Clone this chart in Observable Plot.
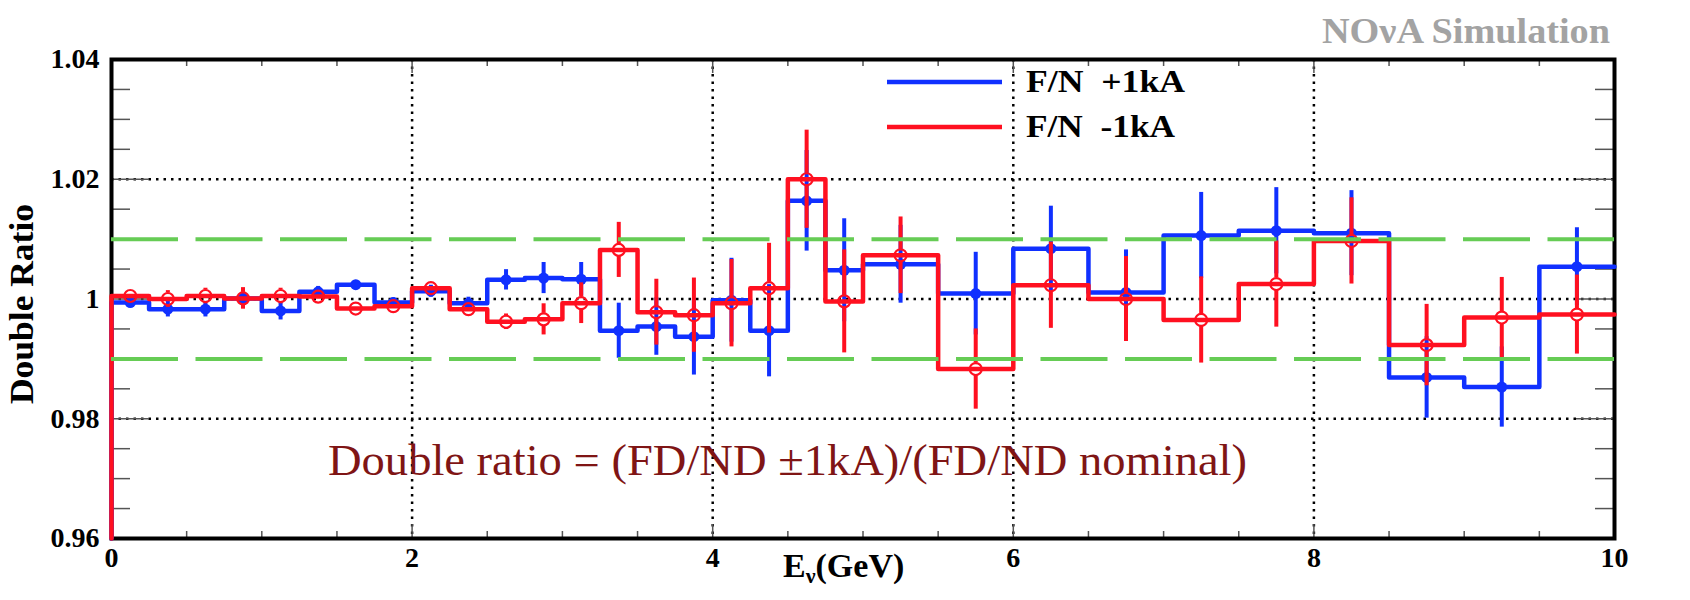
<!DOCTYPE html>
<html><head><meta charset="utf-8">
<script src="https://cdn.jsdelivr.net/npm/d3@7"></script>
<script src="https://cdn.jsdelivr.net/npm/@observablehq/plot@0.6"></script>
<style>
body{margin:0;background:#fff;}
#chart{width:1690px;height:600px;position:relative;}
</style>
</head><body><div id="chart"></div>
<script>
// Bin edges (GeV)
const binLow  = [0,0.25,0.5,0.75,1,1.25,1.5,1.75,2,2.25,2.5,2.75,3,3.25,3.5,3.75,4,4.25,4.5,4.75,5,5.5,6,6.5,7,7.5,8,8.5,9,9.5];
const binHigh = [0.25,0.5,0.75,1,1.25,1.5,1.75,2,2.25,2.5,2.75,3,3.25,3.5,3.75,4,4.25,4.5,4.75,5,5.5,6,6.5,7,7.5,8,8.5,9,9.5,10];
// F/N +1kA double ratio (blue) and its errors
const bluePlus = [0.9994,0.9983,0.9983,1.0001,0.9980,1.0012,1.0024,0.9994,1.0013,0.9993,1.0032,1.0035,1.0033,0.9947,0.9954,0.9937,0.9998,0.9947,1.0164,1.0048,1.0058,1.0009,1.0084,1.0011,1.0106,1.0114,1.0110,0.9869,0.9853,1.0054];
const blueErr  = [0.0004,0.0013,0.0013,0.0008,0.0015,0.0009,0.0007,0.0008,0.0010,0.0010,0.0017,0.0026,0.0028,0.0046,0.0048,0.0064,0.0070,0.0077,0.0084,0.0086,0.0065,0.0069,0.0071,0.0071,0.0072,0.0072,0.0071,0.0068,0.0067,0.0065];
// F/N -1kA double ratio (red) and its errors
const redMinus = [1.0005,1.0000,1.0005,1.0001,1.0005,1.0004,0.9984,0.9988,1.0018,0.9983,0.9962,0.9966,0.9993,1.0082,0.9978,0.9973,0.9993,1.0018,1.0200,0.9996,1.0073,0.9883,1.0023,1.0000,0.9965,1.0025,1.0097,0.9923,0.9969,0.9974];
const redErr   = [0.0004,0.0014,0.0013,0.0018,0.0013,0.0008,0.0006,0.0006,0.0009,0.0009,0.0013,0.0026,0.0034,0.0046,0.0055,0.0062,0.0073,0.0075,0.0082,0.0086,0.0064,0.0067,0.0072,0.0071,0.0072,0.0072,0.0072,0.0068,0.0067,0.0066];

const xTickLabels = [0,2,4,6,8,10];
const xMinorTicks = [0.5,1,1.5,2.5,3,3.5,4.5,5,5.5,6.5,7,7.5,8.5,9,9.5];
const xMajorTicks = [2,4,6,8];
const yTickLabels = [0.96,0.98,1,1.02,1.04];
const yMinorTicks = [0.965,0.97,0.975,0.985,0.99,0.995,1.005,1.01,1.015,1.025,1.03,1.035];
const yMajorTicks = [0.98,1,1.02];
const gridX = [2,4,6,8];
const gridY = [0.98,1,1.02];
const bandY = [0.99,1.01];
const seriesNames = ["F/N  +1kA","F/N  -1kA"];

const BLUE = "#1030ff", RED = "#ff1020", GREEN = "#66cc55";
const W = 1690, H = 600, mL = 111, mR = 76, mT = 59, mB = 62;
const pw = W - mL - mR, ph = H - mT - mB;
const RR = 6; // open-marker radius

function bins(vals, errs) {
  return binLow.map((lo, i) => ({lo, hi: binHigh[i], c: (lo + binHigh[i]) / 2, v: vals[i], e: errs[i]}));
}
function steps(vals) {
  const s = [{x: binLow[0], y: 0.96}];
  binLow.forEach((lo, i) => s.push({x: lo, y: vals[i]}));
  s.push({x: binHigh[binHigh.length - 1], y: vals[vals.length - 1]});
  return s;
}
const blueBins = bins(bluePlus, blueErr), redBins = bins(redMinus, redErr);

const dotted = {stroke: "black", strokeOpacity: 1, strokeWidth: 2.5, strokeDasharray: "2.5,5"};
const tickStyle = {stroke: "#555", strokeWidth: 1.5};

const chart = Plot.plot({
  width: W, height: H,
  marginLeft: mL, marginRight: mR, marginTop: mT, marginBottom: mB,
  style: {fontFamily: "'Liberation Serif','Times New Roman',serif", fontSize: "28px", fontWeight: "bold", background: "white", color: "black", overflow: "visible"},
  x: {domain: [0, 10]},
  y: {domain: [0.96, 1.04]},
  marks: [
    Plot.gridX(gridX, dotted),
    Plot.gridY(gridY, dotted),
    // inward ticks
    Plot.tickX(xMinorTicks, {x: d => d, insetTop: ph - 7, ...tickStyle}),
    Plot.tickX(xMinorTicks, {x: d => d, insetBottom: ph - 7, ...tickStyle}),
    Plot.tickX(xMajorTicks, {x: d => d, insetTop: ph - 14, ...tickStyle}),
    Plot.tickX(xMajorTicks, {x: d => d, insetBottom: ph - 14, ...tickStyle}),
    Plot.tickY(yMinorTicks, {y: d => d, insetRight: pw - 19, ...tickStyle}),
    Plot.tickY(yMinorTicks, {y: d => d, insetLeft: pw - 19, ...tickStyle}),
    Plot.tickY(yMajorTicks, {y: d => d, insetRight: pw - 38, ...tickStyle}),
    Plot.tickY(yMajorTicks, {y: d => d, insetLeft: pw - 38, ...tickStyle}),
    Plot.frame({stroke: "black", strokeWidth: 4}),
    // blue: +1kA
    Plot.line(steps(bluePlus), {x: "x", y: "y", curve: "step-after", stroke: BLUE, strokeWidth: 4.5}),
    Plot.ruleX(blueBins, {x: "c", y1: d => d.v + d.e, y2: d => d.v - d.e, stroke: BLUE, strokeWidth: 4}),
    Plot.dot(blueBins, {x: "c", y: "v", r: 5.5, fill: BLUE}),
    // red: -1kA (error bars stop at the open marker)
    Plot.line(steps(redMinus), {x: "x", y: "y", curve: "step-after", stroke: RED, strokeWidth: 4.5}),
    Plot.ruleX(redBins, {filter: d => d.e > 0.0009, x: "c", y1: d => d.v + d.e, y2: "v", insetBottom: RR, stroke: RED, strokeWidth: 4}),
    Plot.ruleX(redBins, {filter: d => d.e > 0.0009, x: "c", y1: "v", y2: d => d.v - d.e, insetTop: RR, stroke: RED, strokeWidth: 4}),
    Plot.dot(redBins, {x: "c", y: "v", r: RR, fill: "none", stroke: RED, strokeWidth: 2.2}),
    // +-1% band
    Plot.ruleY(bandY, {y: d => d, stroke: GREEN, strokeWidth: 4, strokeDasharray: "67,17.5"}),
    Plot.axisX(xTickLabels, {tickSize: 0, tickPadding: 9, label: null, fontSize: 28, fontWeight: "bold",
      tickFormat: d => String(d)}),
    Plot.axisY(yTickLabels, {tickSize: 0, tickPadding: 12, label: null, fontSize: 28, fontWeight: "bold",
      tickFormat: d => d === 1 ? "1" : d.toFixed(2)})
  ]
});
document.getElementById("chart").appendChild(chart);

// Annotations and legend
const svg = d3.select(chart);
const serif = "'Liberation Serif','Times New Roman',serif";
const g = svg.append("g").attr("font-family", serif).attr("text-anchor", "start").style("white-space", "pre");

g.append("text").attr("x", 1610).attr("y", 43).attr("text-anchor", "end")
  .attr("font-size", 36).attr("font-weight", "bold").attr("fill", "#a3a3a3")
  .attr("textLength", 288).attr("lengthAdjust", "spacingAndGlyphs").text("NOνA Simulation");

g.append("text").attr("x", 328).attr("y", 475).attr("text-anchor", "start")
  .attr("font-size", 44).attr("font-weight", "normal").attr("fill", "#7f1515")
  .attr("textLength", 919).attr("lengthAdjust", "spacingAndGlyphs")
  .text("Double ratio = (FD/ND ±1kA)/(FD/ND nominal)");

const xl = g.append("text").attr("x", 783).attr("y", 577).attr("text-anchor", "start")
  .attr("font-size", 34).attr("font-weight", "bold").attr("fill", "black");
xl.append("tspan").text("E");
xl.append("tspan").attr("font-size", 22).attr("dy", 6).text("ν");
xl.append("tspan").attr("dy", -6).text("(GeV)");

g.append("text").attr("transform", "translate(33,304) rotate(-90)").attr("text-anchor", "middle")
  .attr("font-size", 33).attr("font-weight", "bold").attr("fill", "black")
  .attr("textLength", 200).attr("lengthAdjust", "spacingAndGlyphs").text("Double Ratio");

const legend = [
  {name: seriesNames[0], color: BLUE, y: 82, w: 159},
  {name: seriesNames[1], color: RED, y: 127, w: 149}
];
legend.forEach(d => {
  g.append("line").attr("x1", 887).attr("x2", 1002).attr("y1", d.y).attr("y2", d.y)
    .attr("stroke", d.color).attr("stroke-width", 4.5);
  g.append("text").attr("x", 1026).attr("y", d.y + 10).attr("text-anchor", "start")
    .attr("font-size", 32).attr("font-weight", "bold")
    .attr("fill", "black").attr("textLength", d.w).attr("lengthAdjust", "spacingAndGlyphs")
    .text(d.name);
});
</script>
</body></html>
